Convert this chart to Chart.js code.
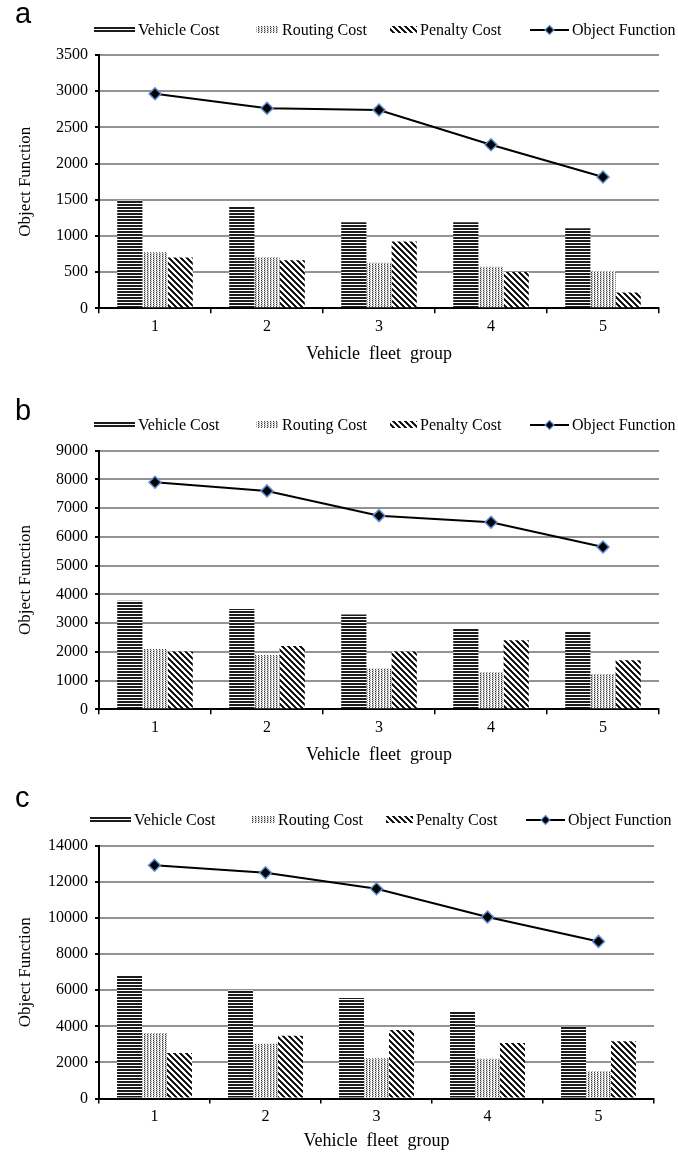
<!DOCTYPE html>
<html><head><meta charset="utf-8">
<script src="https://cdn.jsdelivr.net/npm/chart.js@4.4.0/dist/chart.umd.min.js"></script>
<style>
html,body{margin:0;padding:0;background:#fff;}
#wrap{position:relative;width:678px;height:1154px;overflow:hidden;}
canvas{position:absolute;left:0;}
</style></head><body>
<div id="wrap">
<canvas id="ca" width="678" height="395" style="top:0px"></canvas>
<canvas id="cb" width="678" height="395" style="top:395px"></canvas>
<canvas id="cc" width="678" height="364" style="top:790px"></canvas>
</div>
<script>
// ---------- data ----------
const categories = ['1', '2', '3', '4', '5'];
const seriesNames = ['Vehicle Cost', 'Routing Cost', 'Penalty Cost', 'Object Function'];
const xTitle = 'Vehicle  fleet  group';
const yTitle = 'Object Function';

// panel a
const vehicleA = [1490, 1410, 1190, 1190, 1105];
const routingA = [775, 705, 628, 573, 514];
const penaltyA = [702, 665, 923, 500, 220];
const objectA  = [2965, 2765, 2740, 2260, 1815];
const yTicksA  = [0, 500, 1000, 1500, 2000, 2500, 3000, 3500];

// panel b
const vehicleB = [3780, 3490, 3300, 2800, 2700];
const routingB = [2100, 1890, 1420, 1290, 1230];
const penaltyB = [2010, 2200, 2010, 2400, 1710];
const objectB  = [7900, 7600, 6740, 6510, 5650];
const yTicksB  = [0, 1000, 2000, 3000, 4000, 5000, 6000, 7000, 8000, 9000];

// panel c
const vehicleC = [6790, 6000, 5570, 4800, 3980];
const routingC = [3630, 3040, 2230, 2210, 1510];
const penaltyC = [2520, 3480, 3800, 3080, 3170];
const objectC  = [12930, 12520, 11630, 10060, 8710];
const yTicksC  = [0, 2000, 4000, 6000, 8000, 10000, 12000, 14000];

// ---------- patterns ----------
function makeTile(kind) {
  const c = document.createElement('canvas');
  const g = c.getContext('2d');
  if (kind === 'h') {
    c.width = 4; c.height = 3;
    g.fillStyle = '#fff'; g.fillRect(0, 0, 4, 3);
    g.fillStyle = '#1c1c1c'; g.fillRect(0, 0, 4, 2);
  } else if (kind === 'dot') {
    c.width = 3; c.height = 2;
    g.fillStyle = '#fff'; g.fillRect(0, 0, 3, 2);
    g.fillStyle = '#3a3a3a'; g.fillRect(0, 0, 1, 1);
    g.fillStyle = '#c4c4c4'; g.fillRect(0, 1, 1, 1);
    g.fillStyle = '#a0a0a0'; g.fillRect(1, 1, 1, 1);
    g.fillStyle = '#eeeeee'; g.fillRect(1, 0, 1, 1);
  } else {
    c.width = 6; c.height = 6;
    g.fillStyle = '#fff'; g.fillRect(0, 0, 6, 6);
    for (let y = 0; y < 6; y++) for (let x = 0; x < 6; x++) {
      const d = (x - y + 12) % 6;
      if (d < 3) { g.fillStyle = d === 1 ? '#000' : '#2a2a2a'; g.fillRect(x, y, 1, 1); }
    }
  }
  return c;
}
const tiles = { h: makeTile('h'), dot: makeTile('dot'), diag: makeTile('diag') };
function pat(ctx, k) { return ctx.createPattern(tiles[k], 'repeat'); }

const SERIF = '"Liberation Serif", "Times New Roman", serif';
const SANS = '"Liberation Sans", Arial, sans-serif';

// ---------- decoration plugin: panel letter + legend ----------
const decor = {
  id: 'decor',
  afterDraw(chart, args, o) {
    const ctx = chart.ctx;
    ctx.save();
    ctx.fillStyle = '#000';
    ctx.font = '29px ' + SANS;
    ctx.textBaseline = 'alphabetic';
    ctx.fillText(o.letter, 15, o.letterY);

    const y = o.legendY;
    const xs = [94, 256, 390, 530].map(v => v + o.dx);
    const ws = [41, 23, 27, 39];
    const kinds = ['h', 'dot', 'diag'];
    ctx.font = '16px ' + SERIF;
    ctx.textBaseline = 'middle';
    for (let i = 0; i < 4; i++) {
      if (i < 3) {
        ctx.fillStyle = pat(ctx, kinds[i]);
        ctx.fillRect(xs[i], y - 4, ws[i], 7);
      } else {
        ctx.strokeStyle = '#000'; ctx.lineWidth = 2;
        ctx.beginPath(); ctx.moveTo(xs[i], y); ctx.lineTo(xs[i] + ws[i], y); ctx.stroke();
        const cx = xs[i] + ws[i] / 2, r = 4.5;
        ctx.beginPath();
        ctx.moveTo(cx, y - r); ctx.lineTo(cx + r, y); ctx.lineTo(cx, y + r); ctx.lineTo(cx - r, y); ctx.closePath();
        ctx.fillStyle = '#000'; ctx.fill();
        ctx.strokeStyle = '#5b8fd6'; ctx.lineWidth = 1.2; ctx.stroke();
      }
      ctx.fillStyle = '#000';
      ctx.fillText(seriesNames[i], xs[i] + ws[i] + 3, y + 1);
    }
    ctx.restore();
  }
};

function makeChart(id, p) {
  const canvas = document.getElementById(id);
  const ctx = canvas.getContext('2d');
  const t = p.yTicks;
  return new Chart(canvas, {
    type: 'bar',
    data: {
      labels: categories,
      datasets: [
        { label: seriesNames[0], data: p.vehicle, backgroundColor: pat(ctx, 'h'), order: 2,
          categoryPercentage: 0.675, barPercentage: 1 },
        { label: seriesNames[1], data: p.routing, backgroundColor: pat(ctx, 'dot'), order: 2,
          categoryPercentage: 0.675, barPercentage: 1 },
        { label: seriesNames[2], data: p.penalty, backgroundColor: pat(ctx, 'diag'), order: 2,
          categoryPercentage: 0.675, barPercentage: 1 },
        { type: 'line', label: seriesNames[3], data: p.object, order: 1,
          borderColor: '#000', borderWidth: 2, tension: 0, fill: false,
          pointStyle: 'rectRot', pointRadius: 6, pointBackgroundColor: '#000',
          pointBorderColor: '#5b8fd6', pointBorderWidth: 1.5 }
      ]
    },
    options: {
      responsive: false, animation: false, devicePixelRatio: 1,
      layout: { padding: { top: p.top, right: p.right, bottom: p.bottom, left: 0 } },
      plugins: {
        legend: { display: false }, tooltip: { enabled: false }, title: { display: false },
        decor: { letter: p.letter, letterY: p.letterY, legendY: p.legendY, dx: p.dx }
      },
      scales: {
        x: {
          offset: true,
          grid: { offset: true, drawOnChartArea: false, drawTicks: true, tickLength: 5, color: '#000', lineWidth: 1.5 },
          border: { color: '#000', width: 2 },
          ticks: { font: { family: SERIF, size: 16 }, color: '#000', padding: 4 },
          title: { display: true, text: xTitle, color: '#000', font: { family: SERIF, size: 18 },
                   padding: { top: 0, bottom: p.xTitlePad } },
          afterFit(s) { s.height = p.xHeight; }
        },
        y: {
          min: t[0], max: t[t.length - 1],
          ticks: { stepSize: t[1] - t[0], font: { family: SERIF, size: 16 }, color: '#000', padding: 7,
                   callback: v => String(v) },
          grid: { color: '#939393', lineWidth: 2, tickColor: '#000', tickLength: 4, tickWidth: 2 },
          border: { color: '#000', width: 2 },
          title: { display: true, text: yTitle, color: '#000', font: { family: SERIF, size: 17 },
                   padding: { top: 15, bottom: 0 } },
          afterFit(s) { s.width = 99; }
        }
      }
    },
    plugins: [decor]
  });
}

makeChart('ca', { vehicle: vehicleA, routing: routingA, penalty: penaltyA, object: objectA, yTicks: yTicksA,
  letter: 'a', letterY: 23, legendY: 30, dx: 0, top: 55, right: 19, bottom: 26.7, xHeight: 60, xTitlePad: 3.5 });
makeChart('cb', { vehicle: vehicleB, routing: routingB, penalty: penaltyB, object: objectB, yTicks: yTicksB,
  letter: 'b', letterY: 25, legendY: 30, dx: 0, top: 55.7, right: 19, bottom: 20.7, xHeight: 60, xTitlePad: 3.5 });
makeChart('cc', { vehicle: vehicleC, routing: routingC, penalty: penaltyC, object: objectC, yTicks: yTicksC,
  letter: 'c', letterY: 17, legendY: 30, dx: -4, top: 56, right: 24, bottom: 0.5, xHeight: 55, xTitlePad: 1 });
</script>
</body></html>
